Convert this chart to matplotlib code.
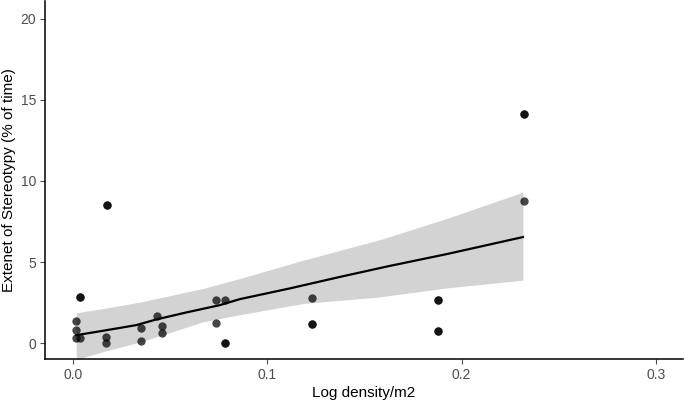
import matplotlib
matplotlib.use("Agg")
import matplotlib.pyplot as plt
import numpy as np

plt.rcParams['font.family'] = ['Liberation Sans', 'DejaVu Sans']

# observed points (overlapping duplicates appear darker)
density = [0.0017, 0.0017, 0.0017, 0.0037, 0.0038, 0.0038,
           0.0175, 0.0175, 0.0168, 0.0168, 0.035, 0.035, 0.043,
           0.046, 0.046, 0.0735, 0.0735, 0.0784, 0.0784, 0.0784,
           0.123, 0.123, 0.123, 0.188, 0.188, 0.188, 0.188,
           0.232, 0.232, 0.232]
stereotypy = [1.37, 0.8, 0.3, 0.3, 2.83, 2.83,
              8.49, 8.49, 0.35, 0.02, 0.94, 0.14, 1.7,
              1.05, 0.6, 2.65, 1.25, 2.65, 0.02, 0.02,
              2.77, 1.15, 1.15, 2.63, 2.63, 0.74, 0.74,
              14.1, 14.1, 8.76]

# fitted line
line_x = [0.0017, 0.0154, 0.0326, 0.0429, 0.0583, 0.0755, 0.0858,
          0.1115, 0.1373, 0.163, 0.192, 0.2316]
line_y = [0.49, 0.76, 1.11, 1.46, 1.89, 2.34, 2.71,
          3.37, 4.08, 4.76, 5.48, 6.54]

# confidence band
band_x = [0.0017, 0.0154, 0.035, 0.0669, 0.0858, 0.1184, 0.158, 0.192, 0.2316]
band_lo = [-1.02, -0.53, 0.08, 1.31, 1.75, 2.44, 2.85, 3.4, 3.88]
band_hi = [1.87, 2.13, 2.54, 3.37, 3.98, 5.11, 6.38, 7.67, 9.31]

x_ticks = [0.0, 0.1, 0.2, 0.3]
x_tick_labels = ["0.0", "0.1", "0.2", "0.3"]
y_ticks = [0, 5, 10, 15, 20]

fig = plt.figure(figsize=(6.85, 4.03), dpi=100)
ax = fig.add_axes([45/685, 44/403, (683-45)/685, (403-44-1)/403])

ax.fill_between(band_x, band_lo, band_hi, color='#d3d3d3', linewidth=0, zorder=1)
ax.plot(line_x, line_y, color='black', linewidth=1.6, zorder=2)
ax.scatter(density, stereotypy, s=36, color='black', alpha=0.72, linewidths=0, zorder=3)

ax.set_xlim(-0.0144, 0.314)
ax.set_ylim(-0.98, 21.1)
ax.set_xticks(x_ticks)
ax.set_xticklabels(x_tick_labels)
ax.set_yticks(y_ticks)

for s in ['top', 'right']:
    ax.spines[s].set_visible(False)
for s in ['left', 'bottom']:
    ax.spines[s].set_color('black')
    ax.spines[s].set_linewidth(1.1)

ax.tick_params(axis='both', colors='#4d4d4d', labelcolor='#4d4d4d', labelsize=10,
               length=3.5, width=0.8, pad=3)

ax.set_xlabel("Log density/m2", fontsize=11, color='black', labelpad=3)
ax.set_ylabel("Extenet of Stereotypy (% of time)", fontsize=11, color='black', labelpad=3)

fig.savefig("out.png", dpi=100)
